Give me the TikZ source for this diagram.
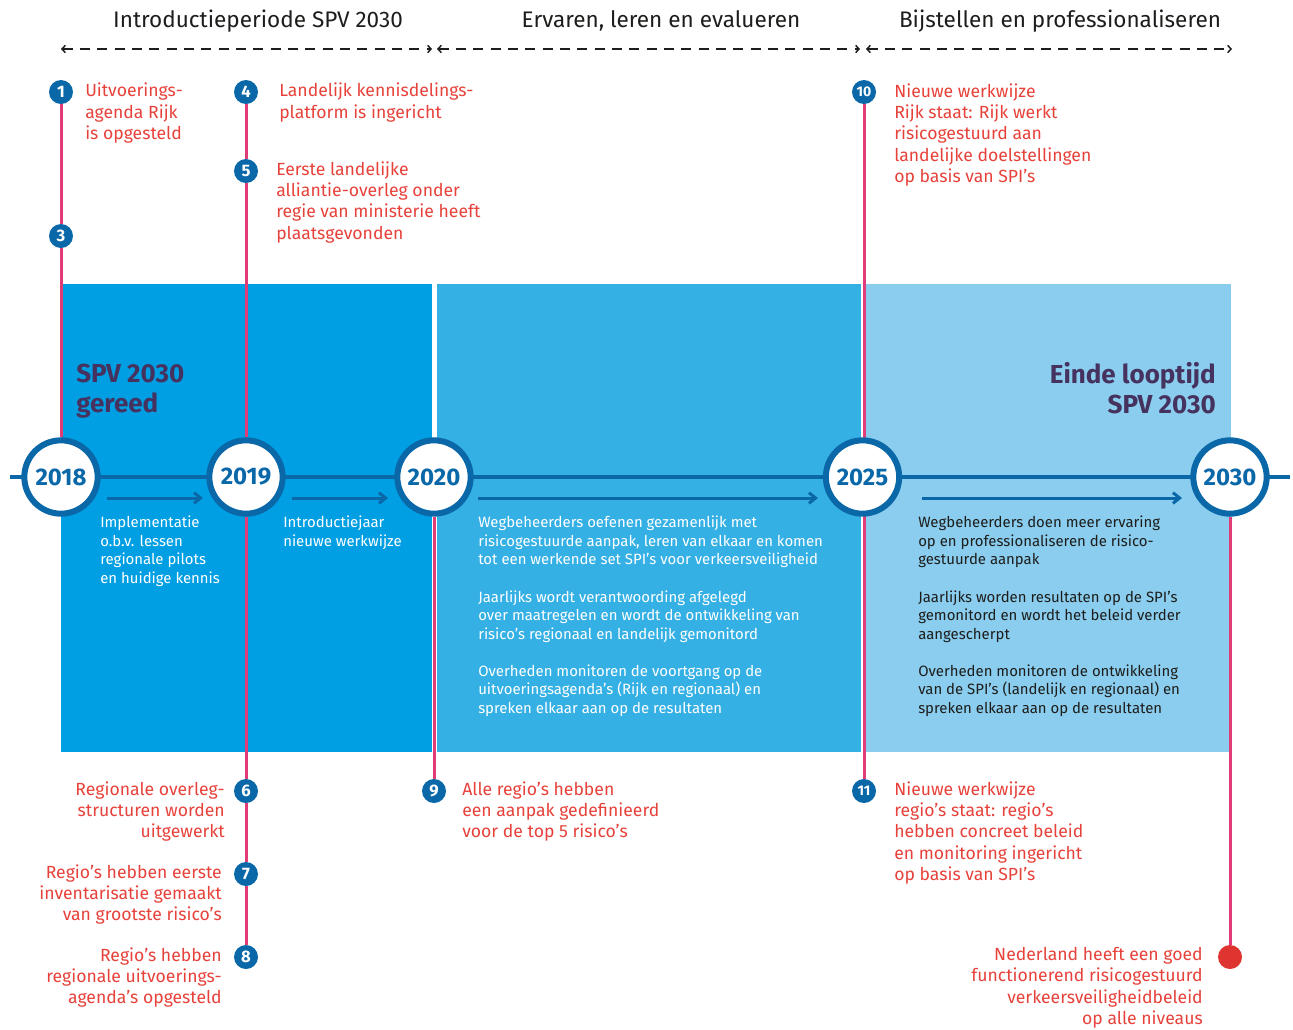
\documentclass[tikz,border=0pt]{standalone}
\usepackage{fontspec}
\setmainfont{Fira Sans}
\usetikzlibrary{arrows.meta}
\definecolor{dblue}{HTML}{0A68A8}
\definecolor{boxA}{HTML}{009FE3}
\definecolor{boxB}{HTML}{35B0E5}
\definecolor{boxC}{HTML}{8ACDEE}
\definecolor{pinkc}{HTML}{E23C78}
\definecolor{redt}{HTML}{E6413A}
\definecolor{reddot}{HTML}{DF3530}
\definecolor{purp}{HTML}{46325F}
\definecolor{blk}{HTML}{1D1D1B}
\pgfdeclarelayer{boxes}
\pgfdeclarelayer{lines}
\pgfsetlayers{boxes,lines,main}
\begin{document}
\begin{tikzpicture}[x=0.75pt,y=-0.75pt,
  hdr/.style={font=\fontsize{16.9}{19}\selectfont, text=blk, inner sep=0, anchor=base},
  redtxt/.style={font=\fontsize{13.2}{16.1}\selectfont, text=redt, inner sep=0, align=left, anchor=north west},
  redtxtr/.style={redtxt, align=right, anchor=north east},
  boxtxt/.style={font=\fontsize{11.2}{13.9}\selectfont, text=white, inner sep=0, align=left, anchor=north west},
  bigtxt/.style={font=\bfseries\fontsize{19.5}{22.5}\selectfont, text=purp, inner sep=0, align=left, anchor=north west},
  yearc/.style={circle, draw=dblue, line width=4.5pt, fill=white, minimum size=55pt, inner sep=0, font=\bfseries\fontsize{18}{20}\selectfont, text=dblue},
  numdot/.style={circle, fill=dblue, minimum size=18pt, inner sep=0, font=\bfseries\fontsize{12.5}{13}\selectfont, text=white},
  numdotw/.style={numdot, font=\bfseries\fontsize{10.5}{11}\selectfont},
  pinkline/.style={draw=pinkc, line width=2.25pt},
  period/.style={draw=blk, line width=1.1pt, dash pattern=on 7.5pt off 5.5pt, {Straight Barb[length=2.5pt,width=5.5pt]}-{Straight Barb[length=2.5pt,width=5.5pt]}},
  tarrow/.style={draw=dblue, line width=2.25pt, -{Straight Barb[length=5pt,width=8pt]}},
  tline/.style={draw=dblue, line width=3pt}
]
\useasboundingbox (0,0) rectangle (1293,1029);

% headers
\node[hdr] (h1) at (258,27) {Introductieperiode SPV 2030};
\node[hdr] (h2) at (661,27) {Ervaren, leren en evalueren};
\node[hdr] (h3) at (1060,27) {Bijstellen en professionaliseren};
\coordinate (d1a) at (61,49); \coordinate (d1b) at (432,49);
\coordinate (d2a) at (437,49); \coordinate (d2b) at (860,49);
\coordinate (d3a) at (866,49); \coordinate (d3b) at (1232,49);
\draw[period] (d1a) -- (d1b);
\draw[period] (d2a) -- (d2b);
\draw[period] (d3a) -- (d3b);

% phase boxes
\begin{pgfonlayer}{boxes}
\fill[boxA] (61,284) rectangle (432,752);
\fill[boxB] (437,284) rectangle (861,752);
\fill[boxC] (866,284) rectangle (1231,752);
\end{pgfonlayer}

% year circles
\node[yearc] (y2018) at (61,477) {2018};
\node[yearc] (y2019) at (246,477) {2019};
\node[yearc] (y2020) at (434,477) {2020};
\node[yearc] (y2025) at (862.5,477) {2025};
\node[yearc] (y2030) at (1230,477) {2030};

% numbered markers
\node[numdot] (m1) at (61,92) {1};
\node[numdot] (m3) at (61,236) {3};
\node[numdot] (m4) at (246,92) {4};
\node[numdot] (m5) at (246,171) {5};
\node[numdot] (m6) at (246,791) {6};
\node[numdot] (m7) at (246,874) {7};
\node[numdot] (m8) at (246,957) {8};
\node[numdot] (m9) at (434,791) {9};
\node[numdotw] (m10) at (864,92) {10};
\node[numdotw] (m11) at (864,791) {11};
\node[circle, fill=reddot, minimum size=18pt, inner sep=0] (goal) at (1230,957) {};

% timeline and pink connectors
\coordinate (tl) at (10,477);
\coordinate (tr) at (1290,477);
\begin{pgfonlayer}{lines}
\draw[pinkline] (m1) -- (m3);
\draw[pinkline] (m3) -- (y2018);
\draw[pinkline] (m4) -- (m5);
\draw[pinkline] (m5) -- (y2019);
\draw[pinkline] (y2019) -- (m6);
\draw[pinkline] (m6) -- (m7);
\draw[pinkline] (m7) -- (m8);
\draw[pinkline] (y2020) -- (m9);
\draw[pinkline] (m10) -- (m11);
\draw[pinkline] (y2030) -- (goal);
\draw[tline] (tl) -- (tr);
\end{pgfonlayer}

% progress arrows
\coordinate (a1s) at (107,498); \coordinate (a1e) at (203,498);
\coordinate (a2s) at (292,498); \coordinate (a2e) at (388,498);
\coordinate (a3s) at (478,498); \coordinate (a3e) at (818,498);
\coordinate (a4s) at (922,498); \coordinate (a4e) at (1182,498);
\draw[tarrow] (a1s) -- (a1e);
\draw[tarrow] (a2s) -- (a2e);
\draw[tarrow] (a3s) -- (a3e);
\draw[tarrow] (a4s) -- (a4e);

% big labels
\node[bigtxt] (spv) at (76,364) {SPV 2030\\gereed};
\node[bigtxt, align=right, anchor=north east] (einde) at (1216,362) {Einde looptijd\\SPV 2030};

% box texts
\node[boxtxt] (b1) at (100,516) {Implementatie\\o.b.v. lessen\\regionale pilots\\en huidige kennis};
\node[boxtxt] (b2) at (283,516) {Introductiejaar\\nieuwe werkwijze};
\node[boxtxt] (b3) at (478,516) {Wegbeheerders oefenen gezamenlijk met\\risicogestuurde aanpak, leren van elkaar en komen\\tot een werkende set SPI’s voor verkeersveiligheid\\[13.9pt]Jaarlijks wordt verantwoording afgelegd\\over maatregelen en wordt de ontwikkeling van\\risico’s regionaal en landelijk gemonitord\\[13.9pt]Overheden monitoren de voortgang op de\\uitvoeringsagenda’s (Rijk en regionaal) en\\spreken elkaar aan op de resultaten};
\node[boxtxt, text=blk] (b4) at (918,516) {Wegbeheerders doen meer ervaring\\op en professionaliseren de risico-\\gestuurde aanpak\\[13.9pt]Jaarlijks worden resultaten op de SPI’s\\gemonitord en wordt het beleid verder\\aangescherpt\\[13.9pt]Overheden monitoren de ontwikkeling\\van de SPI’s (landelijk en regionaal) en\\spreken elkaar aan op de resultaten};

% milestone texts
\node[redtxt] (t1) at (85,83) {Uitvoerings-\\agenda Rijk\\is opgesteld};
\node[redtxt] (t4) at (279,83) {Landelijk kennisdelings-\\platform is ingericht};
\node[redtxt] (t5) at (276,161) {Eerste landelijke\\alliantie-overleg onder\\regie van ministerie heeft\\plaatsgevonden};
\node[redtxt] (t10) at (894,83) {Nieuwe werkwijze\\Rijk staat: Rijk werkt\\risicogestuurd aan\\landelijke doelstellingen\\op basis van SPI’s};
\node[redtxtr] (t6) at (225,781) {Regionale overleg-\\structuren worden\\uitgewerkt};
\node[redtxtr] (t7) at (222,864) {Regio’s hebben eerste\\inventarisatie gemaakt\\van grootste risico’s};
\node[redtxtr] (t8) at (222,947) {Regio’s hebben\\regionale uitvoerings-\\agenda’s opgesteld};
\node[redtxt] (t9) at (462,781) {Alle regio’s hebben\\een aanpak gedefinieerd\\voor de top 5 risico’s};
\node[redtxt] (t11) at (894,781) {Nieuwe werkwijze\\regio’s staat: regio’s\\hebben concreet beleid\\en monitoring ingericht\\op basis van SPI’s};
\node[redtxtr] (tgoal) at (1203,947) {Nederland heeft een goed\\functionerend risicogestuurd\\verkeersveiligheidbeleid\\op alle niveaus};
\end{tikzpicture}
\end{document}
